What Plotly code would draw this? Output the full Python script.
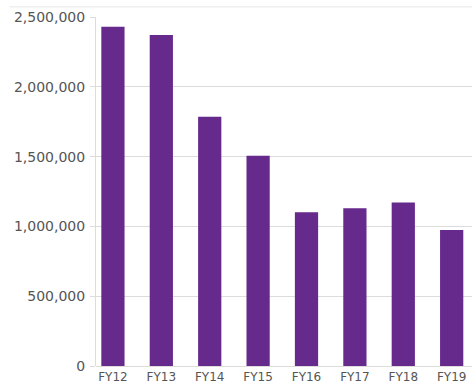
import plotly.graph_objects as go

# Annual totals by fiscal year
years = ["FY12", "FY13", "FY14", "FY15", "FY16", "FY17", "FY18", "FY19"]
totals = [2430000, 2371000, 1786000, 1506000, 1101000, 1130000, 1172000, 974000]

tick_vals = [0, 500000, 1000000, 1500000, 2000000, 2500000]
tick_text = ["0", "500,000", "1,000,000", "1,500,000", "2,000,000", "2,500,000"]

BAR = "#66298c"
GRID = "#dcdcdc"
TEXT = "#555555"
FONT = "DejaVu Sans"

fig = go.Figure(
    go.Bar(
        x=years,
        y=totals,
        marker=dict(color=BAR, line=dict(width=0)),
        width=0.48,
    )
)

fig.update_layout(
    width=472,
    height=383,
    margin=dict(l=96, r=0, t=17, b=17),
    paper_bgcolor="white",
    plot_bgcolor="white",
    showlegend=False,
    font=dict(family=FONT, size=13, color=TEXT),
    shapes=[
        dict(
            type="line", xref="paper", yref="paper",
            x0=-0.23, x1=1, y0=1.029, y1=1.029,
            line=dict(color="#e6e6e6", width=1),
        )
    ],
)

fig.update_xaxes(
    type="category",
    range=[-0.35, 7.42],
    showgrid=False,
    showline=False,
    zeroline=False,
    ticks="",
    tickfont=dict(family=FONT, size=12, color=TEXT),
    ticklabelstandoff=2,
)

fig.update_yaxes(
    range=[0, 2500000],
    tickvals=tick_vals,
    ticktext=tick_text,
    showgrid=True,
    gridcolor=GRID,
    gridwidth=1,
    zeroline=True,
    zerolinecolor=GRID,
    zerolinewidth=1,
    showline=True,
    linecolor=GRID,
    linewidth=1,
    ticks="outside",
    ticklen=5,
    tickcolor=GRID,
    tickfont=dict(family=FONT, size=14, color=TEXT),
    ticklabelstandoff=2,
)

fig.write_html("out.html")
